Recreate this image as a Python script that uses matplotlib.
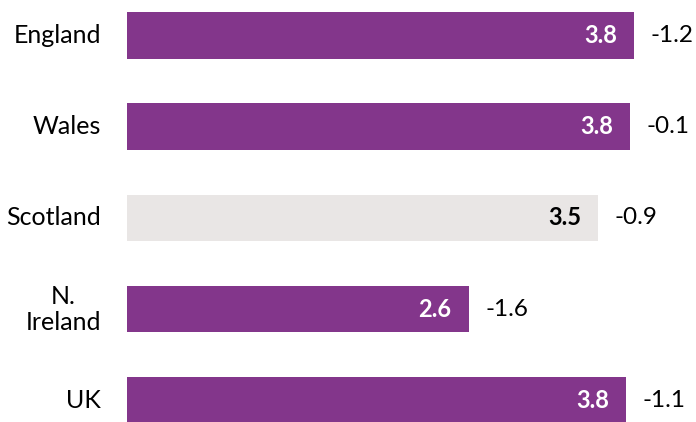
import matplotlib
matplotlib.use("Agg")
import matplotlib.pyplot as plt

categories = ["England", "Wales", "Scotland", "N.\nIreland", "UK"]
values = [3.80, 3.77, 3.53, 2.56, 3.74]
value_labels = ["3.8", "3.8", "3.5", "2.6", "3.8"]
changes = ["-1.2", "-0.1", "-0.9", "-1.6", "-1.1"]
highlight = [True, True, False, True, True]

PURPLE = "#83368B"
GREY = "#E9E6E5"
FONT = ["Lato", "DejaVu Sans"]

W, H = 696, 422
fig = plt.figure(figsize=(W / 100, H / 100), dpi=100)
ax = fig.add_axes([127 / W, 0, 1 - 127 / W, 1])

px_per_unit = 507 / 3.80
ax.set_xlim(0, (W - 127) / px_per_unit)
step = 91.3
c0 = 35.3
ax.set_ylim((H - c0) / step, -c0 / step)

colors = [PURPLE if h else GREY for h in highlight]
ypos = list(range(len(categories)))
bars = ax.barh(ypos, values, height=0.51, color=colors)

pad = 17 / px_per_unit
for y, v, lab, ch, h in zip(ypos, values, value_labels, changes, highlight):
    ax.text(v - pad, y, lab, ha="right", va="center", fontsize=17,
            fontweight="bold", color="white" if h else "black", family=FONT)
    ax.text(v + pad, y, ch, ha="left", va="center", fontsize=17.5,
            color="black", family=FONT)

for y, cat in zip(ypos, categories):
    ax.text(-26 / px_per_unit, y, cat, ha="right", va="center", fontsize=18,
            color="black", family=FONT, multialignment="center",
            linespacing=1.15)

ax.axis("off")
fig.savefig("out.png", dpi=100)
